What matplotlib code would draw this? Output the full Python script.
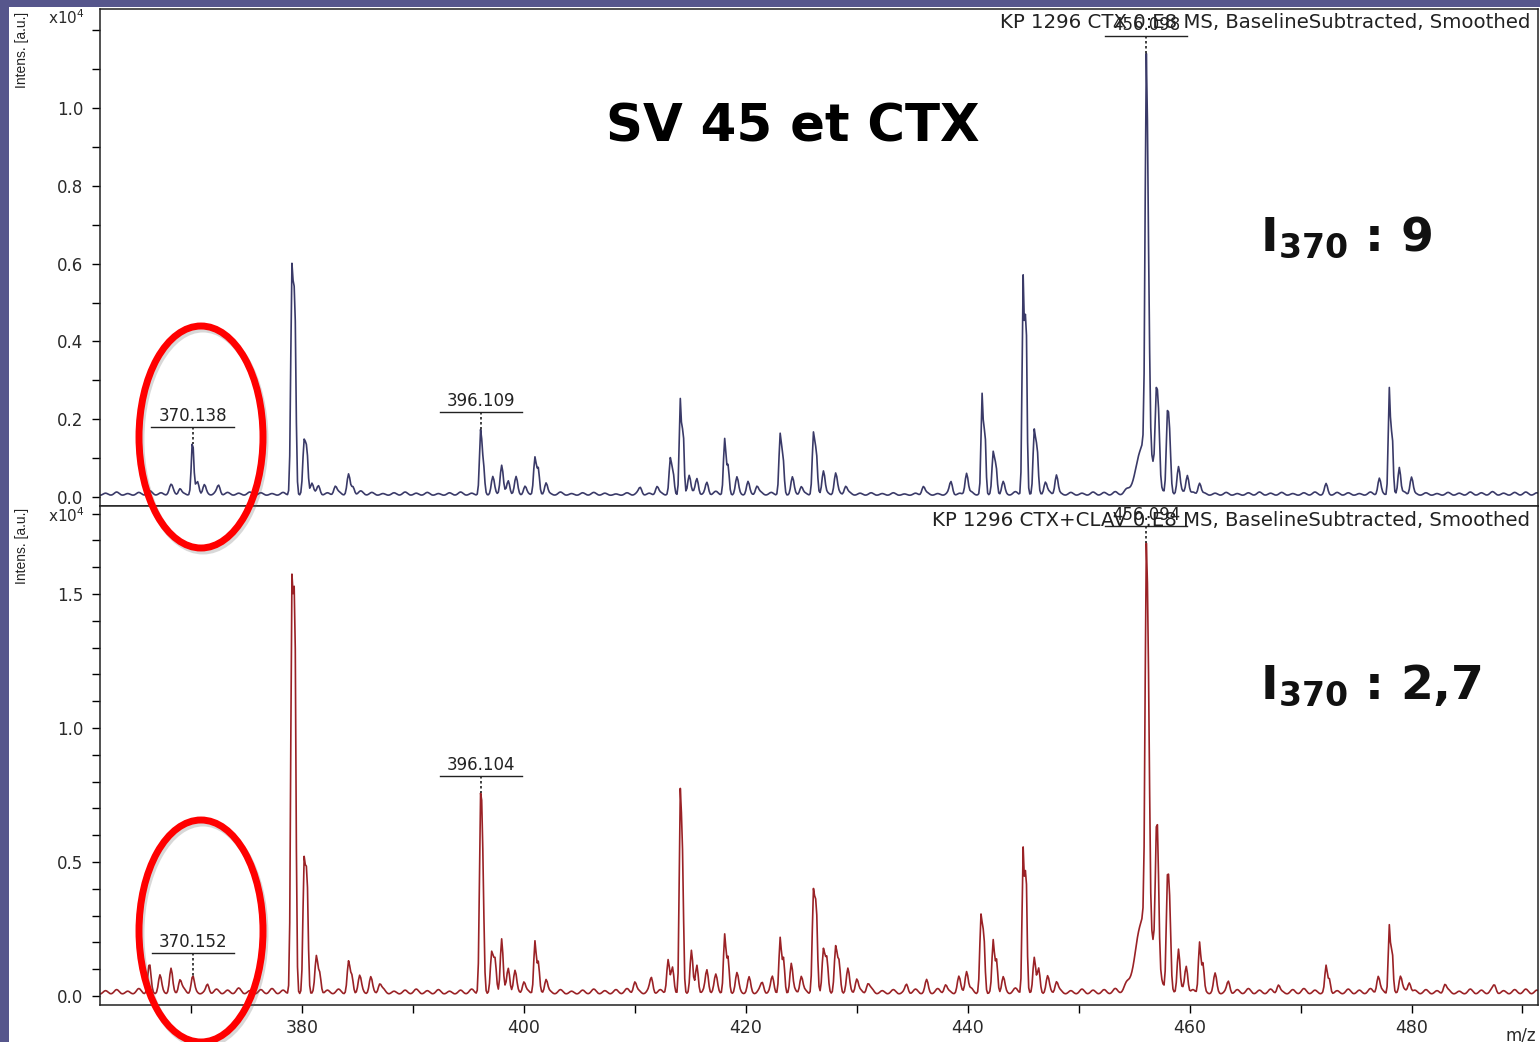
# Two MALDI-TOF spectra (CTX vs CTX+CLAV) stacked, with the 370 m/z region circled
import numpy as np
import matplotlib
matplotlib.use("Agg")
import matplotlib.pyplot as plt
from matplotlib.patches import Ellipse, Rectangle

plt.rcParams["font.family"] = ["DejaVu Sans"]
plt.rcParams["mathtext.fontset"] = "custom"
plt.rcParams["mathtext.rm"] = "DejaVu Sans"
plt.rcParams["mathtext.bf"] = "DejaVu Sans:bold"

W, H = 1540, 1042

# peaks: (m/z, intensity in 1e4 a.u., width in Da)
top_peaks = [
    (368.2, 0.02, 0.12), (369.0, 0.015, 0.1), (370.138, 0.13, 0.08), (370.6, 0.03, 0.1),
    (371.2, 0.02, 0.1), (372.5, 0.02, 0.1),
    (379.1, 0.56, 0.08), (379.35, 0.48, 0.08), (380.2, 0.13, 0.09), (380.45, 0.1, 0.08),
    (380.9, 0.03, 0.1), (381.5, 0.02, 0.1), (383.0, 0.02, 0.1), (384.2, 0.05, 0.1), (384.6, 0.02, 0.1),
    (396.109, 0.16, 0.08), (396.35, 0.07, 0.08), (397.2, 0.04, 0.1), (398.0, 0.075, 0.1),
    (398.6, 0.035, 0.1), (399.3, 0.04, 0.1), (400.1, 0.02, 0.1), (401.0, 0.095, 0.09),
    (401.3, 0.06, 0.08), (402.0, 0.03, 0.1),
    (410.5, 0.015, 0.1), (412.0, 0.02, 0.1), (413.2, 0.085, 0.08), (413.45, 0.05, 0.08),
    (414.1, 0.24, 0.07), (414.35, 0.16, 0.07), (414.9, 0.05, 0.1), (415.6, 0.04, 0.1),
    (416.5, 0.03, 0.1), (418.1, 0.14, 0.08), (418.4, 0.07, 0.08), (419.2, 0.04, 0.1),
    (420.2, 0.03, 0.1), (421.0, 0.02, 0.1), (423.1, 0.15, 0.08), (423.35, 0.09, 0.08),
    (424.2, 0.04, 0.1), (425.0, 0.02, 0.1), (426.1, 0.15, 0.08), (426.35, 0.1, 0.08),
    (427.0, 0.06, 0.1), (428.1, 0.05, 0.1), (429.0, 0.02, 0.1), (436.0, 0.02, 0.1),
    (438.5, 0.03, 0.1), (439.9, 0.055, 0.1), (441.3, 0.25, 0.07), (441.55, 0.16, 0.07),
    (442.3, 0.1, 0.08), (442.55, 0.07, 0.08), (443.2, 0.03, 0.1), (445.0, 0.55, 0.07),
    (445.25, 0.46, 0.07), (446.0, 0.16, 0.08), (446.25, 0.11, 0.08), (447.0, 0.03, 0.1),
    (448.0, 0.05, 0.1),
    (456.0, 0.14, 0.5), (456.098, 0.93, 0.08), (456.3, 0.35, 0.08), (457.0, 0.2, 0.08),
    (457.2, 0.15, 0.08), (458.0, 0.19, 0.08), (458.2, 0.13, 0.08), (459.0, 0.07, 0.1),
    (459.8, 0.05, 0.1), (460.9, 0.03, 0.1), (472.3, 0.025, 0.1),
    (477.1, 0.04, 0.1), (478.0, 0.27, 0.07), (478.25, 0.15, 0.07), (478.9, 0.07, 0.09),
    (480.0, 0.045, 0.1),
]

bot_peaks = [
    (366.25, 0.1, 0.1), (367.2, 0.055, 0.1), (368.2, 0.085, 0.1), (369.0, 0.045, 0.1),
    (370.152, 0.055, 0.1), (371.5, 0.03, 0.1),
    (379.1, 1.46, 0.08), (379.35, 1.38, 0.08), (380.2, 0.47, 0.08), (380.45, 0.42, 0.08),
    (381.3, 0.12, 0.09), (381.6, 0.07, 0.09), (384.2, 0.11, 0.09), (384.5, 0.06, 0.09),
    (385.2, 0.05, 0.1), (386.2, 0.05, 0.1), (387.0, 0.03, 0.1),
    (396.104, 0.67, 0.08), (396.3, 0.4, 0.08), (397.1, 0.14, 0.09), (397.4, 0.11, 0.09),
    (398.0, 0.2, 0.09), (398.6, 0.09, 0.1), (399.2, 0.07, 0.1), (400.0, 0.04, 0.1),
    (401.0, 0.19, 0.08), (401.3, 0.1, 0.08), (402.0, 0.05, 0.1),
    (410.0, 0.04, 0.1), (411.5, 0.05, 0.1), (413.0, 0.12, 0.09), (413.4, 0.08, 0.09),
    (414.1, 0.71, 0.07), (414.3, 0.45, 0.07), (415.1, 0.15, 0.09), (415.6, 0.1, 0.09),
    (416.5, 0.08, 0.1), (417.3, 0.05, 0.1), (418.1, 0.21, 0.08), (418.4, 0.12, 0.08),
    (419.2, 0.06, 0.1), (420.3, 0.05, 0.1), (421.5, 0.03, 0.1), (422.4, 0.05, 0.1),
    (423.1, 0.2, 0.08), (423.4, 0.12, 0.08), (424.1, 0.1, 0.09), (425.0, 0.06, 0.1),
    (426.1, 0.36, 0.08), (426.35, 0.3, 0.08), (427.0, 0.16, 0.09), (427.3, 0.12, 0.09),
    (428.1, 0.16, 0.09), (428.4, 0.1, 0.09), (429.2, 0.08, 0.1), (430.0, 0.05, 0.1),
    (431.0, 0.03, 0.1), (434.5, 0.03, 0.1), (436.3, 0.04, 0.1), (438.0, 0.03, 0.1),
    (439.2, 0.05, 0.1), (439.9, 0.08, 0.1), (441.2, 0.27, 0.08), (441.45, 0.2, 0.08),
    (442.3, 0.18, 0.08), (442.6, 0.12, 0.08), (443.2, 0.05, 0.1), (445.0, 0.53, 0.07),
    (445.25, 0.45, 0.07), (446.0, 0.13, 0.09), (446.4, 0.08, 0.09), (447.2, 0.05, 0.1),
    (448.0, 0.04, 0.1),
    (456.0, 0.3, 0.55), (456.094, 1.25, 0.08), (456.3, 0.7, 0.08), (457.0, 0.38, 0.08),
    (457.15, 0.3, 0.08), (458.0, 0.38, 0.08), (458.2, 0.28, 0.08), (459.0, 0.16, 0.09),
    (459.7, 0.1, 0.1), (460.9, 0.19, 0.08), (461.2, 0.1, 0.08), (462.3, 0.06, 0.1),
    (463.5, 0.04, 0.1), (468.0, 0.03, 0.1), (472.3, 0.09, 0.08), (472.6, 0.05, 0.08),
    (477.0, 0.06, 0.1), (478.0, 0.25, 0.07), (478.25, 0.15, 0.07), (479.0, 0.06, 0.1),
    (479.8, 0.04, 0.1), (483.0, 0.03, 0.1), (487.5, 0.02, 0.1),
]

# baseline ripple, one bump per Da from 362 to 491 (units of 1e-3 x 1e4 a.u.)
top_ripple = [
    6, 9, 5, 8, 12, 7, 10, 6, 14, 9,
    10, 8, 6, 9, 7, 5, 8, 6, 9, 8,
    7, 10, 6, 12, 8, 5, 7, 9, 6, 8,
    5, 7, 9, 6, 8, 10, 7, 9, 6, 8,
    6, 9, 5, 7, 8, 6, 4, 7, 9, 6,
    8, 10, 7, 9, 6, 11, 8, 9, 7, 10,
    8, 6, 9, 7, 10, 8, 12, 9, 6, 7,
    5, 7, 4, 6, 8, 5, 9, 6, 10, 8,
    9, 7, 10, 8, 9, 11, 7, 8, 6, 9,
    8, 10, 12, 9, 7, 10, 8, 11, 9, 7,
    6, 8, 5, 7, 9, 6, 8, 5, 7, 9,
    6, 8, 7, 5, 9, 7, 8, 10, 6, 7,
    5, 8, 6, 9, 7, 10, 6, 8, 9, 7,
]
bot_ripple = [
    14, 18, 12, 22, 16, 20, 14, 24, 18, 12,
    20, 16, 24, 14, 18, 22, 16, 20, 18, 22,
    16, 20, 14, 24, 18, 22, 12, 16, 20, 14,
    18, 12, 16, 20, 14, 24, 18, 22, 16, 20,
    14, 18, 12, 16, 20, 14, 18, 22, 16, 20,
    18, 24, 16, 22, 18, 26, 20, 24, 16, 22,
    20, 16, 24, 18, 22, 16, 26, 20, 18, 24,
    14, 18, 12, 20, 16, 22, 14, 20, 24, 18,
    22, 18, 24, 16, 20, 22, 18, 14, 20, 16,
    18, 22, 26, 20, 18, 24, 20, 22, 18, 16,
    20, 14, 18, 22, 16, 20, 12, 18, 22, 16,
    18, 14, 20, 16, 22, 18, 14, 20, 16, 18,
    14, 18, 12, 20, 16, 22, 14, 18, 20, 16,
]

top_labels = [370.138, 396.109, 456.098]
bot_labels = [370.152, 396.104, 456.094]

mz = np.arange(361.5, 491.8, 0.1)


def spectrum(peaks, ripple, base):
    y = np.full_like(mz, base)
    for c, h, w in peaks:
        w = w * 1.35  # smoothing widens the narrow peaks
        y += h * np.exp(-0.5 * ((mz - c) / w) ** 2)
    for i, h in enumerate(ripple):
        y += h * 1e-3 * np.exp(-0.5 * ((mz - (362.3 + i)) / 0.22) ** 2)
    return y


def px(x, y):
    return x / W, 1 - y / H


fig = plt.figure(figsize=(W / 100, H / 100), dpi=100, facecolor="#56568c")
fig.patches.append(Rectangle(px(9, H), (W - 9) / W, (H - 7) / H, transform=fig.transFigure,
                             facecolor="white", edgecolor="none", zorder=-1))

ax_top = fig.add_axes([100 / W, 1 - 506 / H, 1438 / W, 497 / H])
ax_bot = fig.add_axes([100 / W, 1 - 1005 / H, 1438 / W, 499 / H])

panels = [
    (ax_top, spectrum(top_peaks, top_ripple, 0.004), "#3a3a68", top_labels, (-0.023, 1.2545),
     np.arange(0, 1.25, 0.1), 0.2),
    (ax_bot, spectrum(bot_peaks, bot_ripple, 0.006), "#9a2226", bot_labels, (-0.0336, 1.828),
     np.arange(0, 1.85, 0.1), 0.5),
]

for ax, y, color, labels, ylim, yticks, step in panels:
    ax.plot(mz, y, color=color, lw=1.2)
    ax.set_xlim(361.8, 491.4)
    ax.set_ylim(*ylim)
    ylabels = []
    for t in yticks:
        r = round(t / step, 6)
        ylabels.append(f"{t:.1f}" if abs(r - round(r)) < 1e-6 and t < ylim[1] - 0.2 else "")
    ax.set_yticks(yticks, ylabels)
    ax.tick_params(axis="y", direction="out", length=6, width=1, pad=6,
                   labelsize=12, labelcolor="#2a2a2a")
    for s in ax.spines.values():
        s.set_linewidth(1.1)
        s.set_color("#222222")

    # peak annotations: value text, underline and dotted drop line
    for lab in labels:
        sel = np.abs(mz - lab) < 0.3
        top = y[sel].max()
        if lab < 375 and ax is ax_bot:
            line_y = top + 0.085
        else:
            line_y = top + 0.045 * (ylim[1] - ylim[0]) / 1.28
        ax.plot([lab - 3.7, lab + 3.7], [line_y, line_y], color="#222222", lw=1)
        ax.plot([lab, lab], [line_y, top], color="#222222", lw=1.2, ls=(0, (1.5, 1.5)))
        ax.text(lab, line_y + 0.004 * (ylim[1] - ylim[0]), f"{lab:.3f}", ha="center", va="bottom",
                fontsize=12, color="#222222")

ax_top.set_xticks([])
ax_bot.set_xticks(range(380, 481, 20))
ax_bot.set_xticks(range(370, 491, 20), minor=True)
ax_bot.tick_params(axis="x", which="both", direction="out", length=6, width=1, pad=4,
                   labelsize=12.5, labelcolor="#2a2a2a")

# axis captions
for ytop, yx in [(12, 18), (508, 516)]:
    fig.text(*px(22, ytop), "Intens. [a.u.]", rotation=90, ha="center", va="top",
             fontsize=10, family="Liberation Sans", color="#222222")
    fig.text(*px(66, yx), r"x10$^{\mathrm{4}}$", ha="center", va="center", fontsize=11,
             color="#2a2a2a")
fig.text(*px(1521, 1035), "m/z", ha="center", va="center", fontsize=12, color="#2a2a2a")

fig.text(*px(1530, 23), "KP 1296 CTX 0:E8 MS, BaselineSubtracted, Smoothed", ha="right",
         va="center", fontsize=14.2, color="#222222")
fig.text(*px(1530, 521), "KP 1296 CTX+CLAV 0:E8 MS, BaselineSubtracted, Smoothed", ha="right",
         va="center", fontsize=14.2, color="#222222")

# slide annotations
fig.text(*px(793, 128), "SV 45 et CTX", ha="center", va="center", fontsize=37,
         fontweight="bold", color="black", zorder=6)
fig.text(*px(1260, 238), r"I$_{\mathbf{370}}$ : 9", ha="left", va="center", fontsize=34,
         fontweight="bold", color="#111111", zorder=6)
fig.text(*px(1260, 686), r"I$_{\mathbf{370}}$ : 2,7", ha="left", va="center", fontsize=34,
         fontweight="bold", color="#111111", zorder=6)

for cy in (437, 931):
    sx, sy = px(203, cy + 3)
    fig.patches.append(Ellipse((sx, sy), 124 / W, 222 / H, transform=fig.transFigure,
                               fill=False, edgecolor="#666666", alpha=0.25, lw=5, zorder=5))
    cx, cyy = px(201, cy)
    fig.patches.append(Ellipse((cx, cyy), 124 / W, 222 / H, transform=fig.transFigure,
                               fill=False, edgecolor="#ff0000", lw=5, zorder=6))

fig.savefig("out.png", dpi=100, facecolor=fig.get_facecolor())
